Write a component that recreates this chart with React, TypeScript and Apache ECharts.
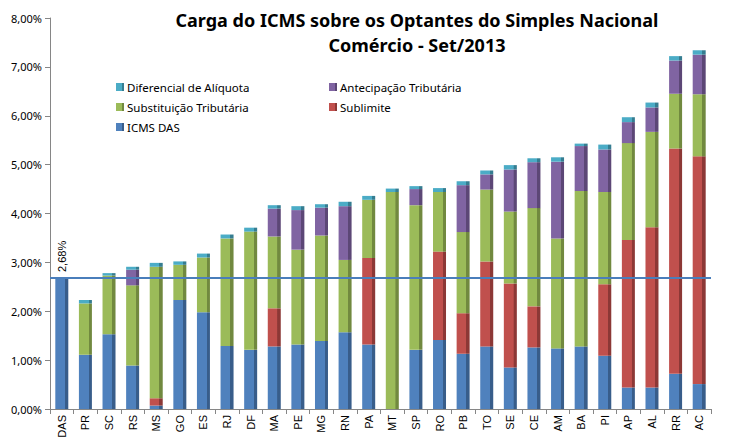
import React, { useEffect, useRef } from "react";
import * as echarts from "echarts";

const categories = ["DAS","PR","SC","RS","MS","GO","ES","RJ","DF","MA","PE","MG","RN","PA","MT","SP","RO","PB","TO","SE","CE","AM","BA","PI","AP","AL","RR","AC"];
const icmsDas =        [2.68,1.11,1.53,0.89,0.07,2.23,1.98,1.29,1.21,1.28,1.32,1.39,1.57,1.32,0.00,1.21,1.41,1.13,1.28,0.85,1.26,1.24,1.28,1.09,0.44,0.44,0.72,0.51];
const sublimite =      [0,0,0,0,0.15,0,0,0,0,0.78,0,0,0,1.77,0,0,1.81,0.83,1.74,1.72,0.84,0,0,1.46,3.02,3.28,4.61,4.66];
const substituicao =   [0,1.05,1.20,1.64,2.69,0.72,1.12,2.20,2.42,1.47,1.94,2.16,1.48,1.19,4.44,2.96,1.22,1.66,1.47,1.47,2.01,2.25,3.18,1.89,1.98,1.95,1.12,1.27];
const antecipacao =    [0,0,0,0.32,0,0,0,0,0,0.57,0.81,0.57,1.10,0,0,0.33,0,0.96,0.31,0.86,0.94,1.57,0.92,0.87,0.43,0.50,0.68,0.81];
const diferencial =    [0,0.07,0.05,0.06,0.08,0.07,0.08,0.08,0.08,0.07,0.08,0.07,0.09,0.08,0.07,0.06,0.08,0.08,0.08,0.09,0.08,0.09,0.05,0.10,0.10,0.10,0.09,0.09];
const yTicks = [0,1,2,3,4,5,6,7,8];
const mediaDas = 2.68;

const seriesNames = ["ICMS DAS","Sublimite","Substituição Tributária","Antecipação Tributária","Diferencial de Alíquota"];
const colors = ["#4F81BD","#C0504D","#9BBB59","#8064A2","#4BACC6"];
const sides = ["#385D8A","#8C3836","#71893F","#5C4776","#357D91"];

function faceColor(i: number) {
  return new echarts.graphic.LinearGradient(0, 0, 1, 0, [
    { offset: 0, color: colors[i] },
    { offset: 0.74, color: colors[i] },
    { offset: 0.75, color: sides[i] },
    { offset: 1, color: sides[i] },
  ]);
}

const fmt = (v: number) => v.toFixed(2).replace(".", ",") + "%";

export default function App() {
  const ref = useRef<HTMLDivElement>(null);
  useEffect(() => {
    const chart = echarts.init(ref.current!, null, { renderer: "svg" });
    const datas = [icmsDas, sublimite, substituicao, antecipacao, diferencial];
    const series: any[] = datas.map((d, i) => ({
      name: seriesNames[i],
      type: "bar",
      stack: "total",
      barWidth: 13,
      itemStyle: { color: faceColor(i) },
      data: d.map((v, j) => {
        if (i === 0 && j === 0) {
          return {
            value: v,
            label: {
              show: true,
              position: "top",
              rotate: 90,
              align: "left",
              verticalAlign: "middle",
              distance: 6,
              formatter: () => fmt(mediaDas),
              fontFamily: "Liberation Sans",
              fontSize: 11,
              color: "#000",
            },
          };
        }
        return v;
      }),
    }));
    series[0].markLine = {
      symbol: "none",
      silent: true,
      label: { show: false },
      lineStyle: { color: "#4A7EBB", width: 2, type: "solid" },
      data: [{ yAxis: mediaDas }],
    };
    const legendText = { fontFamily: "Noto Sans", fontSize: 11.5, color: "#000", padding: [0, 0, 0, -2] };
    chart.setOption({
      animation: false,
      color: colors,
      title: {
        text: "Carga do ICMS sobre os Optantes do Simples Nacional\nComércio - Set/2013",
        left: 412,
        textAlign: "center",
        top: 2,
        textStyle: {
          fontFamily: "Noto Sans",
          fontWeight: "bold",
          fontSize: 18,
          lineHeight: 25,
          color: "#000",
        },
      },
      legend: [
        {
          orient: "vertical",
          left: 116,
          top: 81,
          padding: 0,
          itemWidth: 8,
          itemHeight: 8,
          itemGap: 8,
          icon: "rect",
          data: ["Diferencial de Alíquota", "Substituição Tributária", "ICMS DAS"],
          textStyle: legendText,
        },
        {
          orient: "vertical",
          left: 329,
          top: 81,
          padding: 0,
          itemWidth: 8,
          itemHeight: 8,
          itemGap: 8,
          icon: "rect",
          data: ["Antecipação Tributária", "Sublimite"],
          textStyle: legendText,
        },
      ],
      grid: { left: 50, right: 33, top: 18, bottom: 34 },
      xAxis: {
        type: "category",
        data: categories,
        axisLine: { lineStyle: { color: "#868686" } },
        axisTick: { show: true, length: 5, lineStyle: { color: "#868686" } },
        axisLabel: { rotate: 90, fontFamily: "Liberation Sans", fontSize: 11, color: "#000", margin: 6 },
      },
      yAxis: {
        type: "value",
        min: yTicks[0],
        max: yTicks[yTicks.length - 1],
        interval: 1,
        splitLine: { show: false },
        axisLine: { show: true, lineStyle: { color: "#868686" } },
        axisTick: { show: true, length: 5, lineStyle: { color: "#868686" } },
        axisLabel: { formatter: (v: number) => fmt(v), fontFamily: "Noto Sans", fontSize: 11, color: "#000", margin: 8 },
      },
      series,
    });
    return () => chart.dispose();
  }, []);
  return <div ref={ref} style={{ position: "absolute", left: 0, top: 0, width: 744, height: 443 }} />;
}
